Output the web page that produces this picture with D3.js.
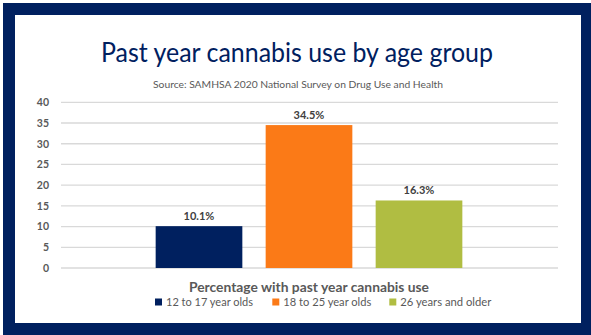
<!DOCTYPE html>
<html>
<head>
<meta charset="utf-8">
<script src="https://cdn.jsdelivr.net/npm/d3@7"></script>
<style>
  html, body { margin: 0; padding: 0; background: #fff; }
  svg { display: block; }
</style>
</head>
<body>
<div id="chart"></div>
<script>
// Chart data
var seriesNames = ['12 to 17 year olds', '18 to 25 year olds', '26 years and older']
var seriesValues = [10.1, 34.5, 16.3]
var seriesColors = ['#00205f', '#fb7a17', '#b0bd42']
var yTicks = [0, 5, 10, 15, 20, 25, 30, 35, 40]

var titleText = 'Past year cannabis use by age group'
var sourceText = 'Source: SAMHSA 2020 National Survey on Drug Use and Health'
var axisTitleText = 'Percentage with past year cannabis use'

var W = 591, H = 335
var navy = '#00205f'
var font = 'Lato, "Open Sans", sans-serif'

var svg = d3.select('#chart').append('svg')
    .attr('width', W)
    .attr('height', H)

// Frame
svg.append('rect')
    .attr('x', 3).attr('y', 3)
    .attr('width', W - 3).attr('height', H - 3)
    .attr('fill', navy)
svg.append('rect')
    .attr('x', 15).attr('y', 15)
    .attr('width', 566).attr('height', 308)
    .attr('fill', '#fff')

// squeeze a text to a given width (Calibri is narrower than what we have)
function fit(sel, w) {
  sel.attr('textLength', w).attr('lengthAdjust', 'spacingAndGlyphs')
}

// Title + source
svg.append('text')
    .attr('x', 297).attr('y', 61.5)
    .attr('text-anchor', 'middle')
    .attr('font-family', font)
    .attr('font-size', '26px')
    .attr('fill', navy)
    .text(titleText)
    .call(fit, 392)

svg.append('text')
    .attr('x', 298).attr('y', 88)
    .attr('text-anchor', 'middle')
    .attr('font-family', font)
    .attr('font-size', '10px')
    .attr('fill', '#595959')
    .text(sourceText)
    .call(fit, 290)

// Plot area
var plot = {left: 61, right: 558, top: 102.3, bottom: 268}

var y = d3.scaleLinear()
    .domain([0, 40])
    .range([plot.bottom, plot.top])

var x = d3.scaleBand()
    .domain(seriesNames)
    .range([144, 474])
    .paddingInner(0.212)
    .paddingOuter(0.106)

// Gridlines
svg.append('g')
    .selectAll('line')
    .data(yTicks)
  .enter().append('line')
    .attr('x1', plot.left)
    .attr('x2', plot.right)
    .attr('y1', function(d){ return y(d) })
    .attr('y2', function(d){ return y(d) })
    .attr('stroke', '#d9d9d9')
    .attr('stroke-width', 1.3)

// Y axis labels
var yAxis = d3.axisLeft(y)
    .tickValues(yTicks)
    .tickSize(0)
    .tickPadding(0)
var yg = svg.append('g')
    .attr('transform', 'translate(49,0)')
    .call(yAxis)
yg.select('.domain').remove()
yg.selectAll('text')
    .attr('font-family', font)
    .attr('font-size', '10.5px')
    .attr('font-weight', 'bold')
    .attr('fill', '#595959')

// Bars
svg.append('g')
    .selectAll('rect')
    .data(seriesNames)
  .enter().append('rect')
    .attr('x', function(d){ return x(d) })
    .attr('y', function(d, i){ return y(seriesValues[i]) })
    .attr('width', x.bandwidth())
    .attr('height', function(d, i){ return y(0) - y(seriesValues[i]) })
    .attr('fill', function(d, i){ return seriesColors[i] })

// Bar labels
svg.append('g')
    .selectAll('text')
    .data(seriesNames)
  .enter().append('text')
    .attr('x', function(d){ return x(d) + x.bandwidth() / 2 })
    .attr('y', function(d, i){ return y(seriesValues[i]) - 6 })
    .attr('text-anchor', 'middle')
    .attr('font-family', font)
    .attr('font-size', '11px')
    .attr('font-weight', 'bold')
    .attr('fill', '#404040')
    .text(function(d, i){ return seriesValues[i].toFixed(1) + '%' })

// Axis title
svg.append('text')
    .attr('x', 309).attr('y', 292)
    .attr('text-anchor', 'middle')
    .attr('font-family', font)
    .attr('font-size', '13px')
    .attr('font-weight', 'bold')
    .attr('fill', '#595959')
    .text(axisTitleText)
    .call(fit, 240)

// Legend
var legendX = [155, 272.3, 389.3]
var legendW = [87, 88, 91]
var leg = svg.append('g')
    .selectAll('g')
    .data(seriesNames)
  .enter().append('g')
    .attr('transform', function(d, i){ return 'translate(' + legendX[i] + ',302)' })
leg.append('rect')
    .attr('x', 0).attr('y', -3.5)
    .attr('width', 7).attr('height', 7)
    .attr('fill', function(d, i){ return seriesColors[i] })
leg.append('text')
    .attr('x', 11).attr('y', 4)
    .attr('font-family', font)
    .attr('font-size', '11px')
    .attr('fill', '#595959')
    .text(function(d){ return d })
    .each(function(d, i){ d3.select(this).call(fit, legendW[i]) })
</script>
</body>
</html>
